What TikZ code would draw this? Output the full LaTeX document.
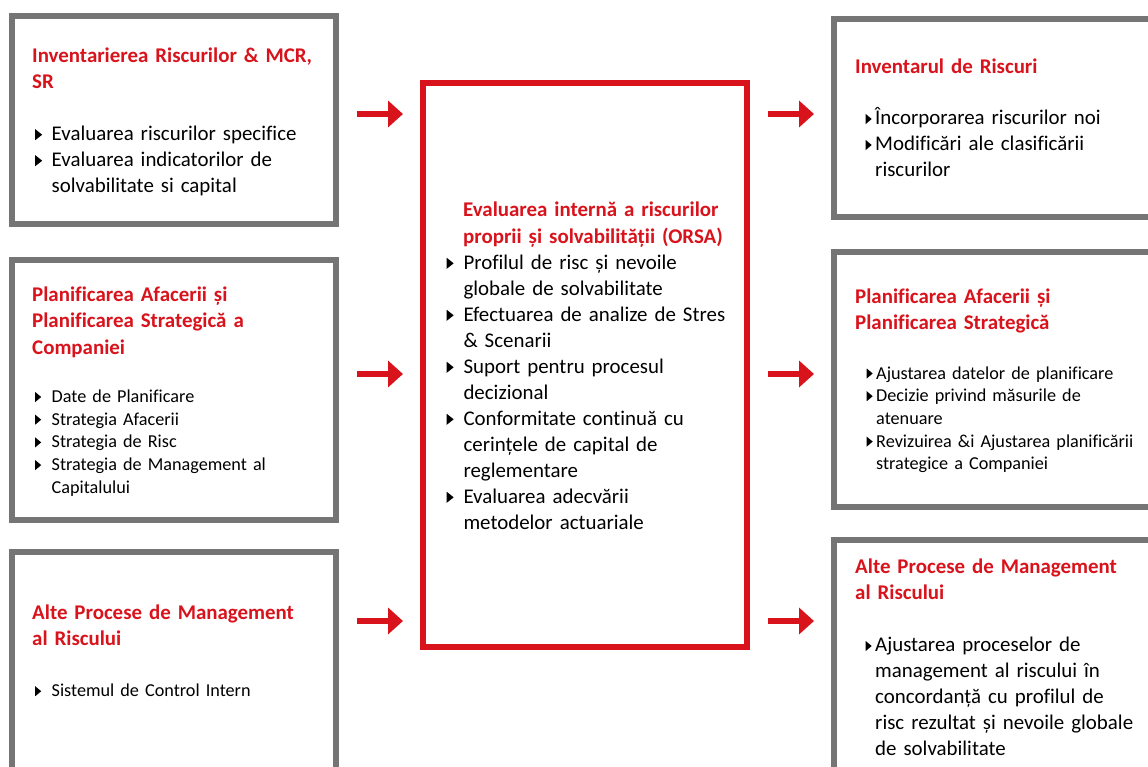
\documentclass[tikz,border=0pt]{standalone}
\usepackage{fontspec}
\setmainfont{Carlito}[Ligatures=CommonOff]
\usetikzlibrary{arrows.meta}

\definecolor{orsared}{HTML}{D9131C}
\definecolor{boxgray}{HTML}{757575}

% bullet triangle: #1 width, #2 height
\newcommand\tri[2]{\tikz[baseline=0pt,x=1pt,y=1pt]\fill[black] (0,0.5) -- (0,#2+0.5) -- (#1,#2/2+0.5) -- cycle;}
\newlength\bulw
\newcommand\bl[1]{\makebox[\bulw][l]{\tri{7}{11}}#1}
\newcommand\bs[1]{\makebox[\bulw][l]{\tri{6}{10}}#1}
\newcommand\cl[1]{\hspace*{\bulw}#1}

\begin{document}
\begin{tikzpicture}[x=1pt,y=-1pt,
  gbox/.style={draw=boxgray,line width=6pt,fill=white,inner sep=0pt},
  rbox/.style={draw=orsared,line width=6pt,fill=white,inner sep=0pt},
  ttl/.style={anchor=base west,inner sep=0pt,text width=320pt,align=left,text=orsared,
    font=\fontsize{20.9}{26.5}\selectfont\bfseries},
  body/.style={anchor=base west,inner sep=0pt,text width=320pt,align=left,
    font=\fontsize{20.9}{26}\selectfont},
  small/.style={anchor=base west,inner sep=0pt,text width=320pt,align=left,
    font=\fontsize{18.2}{22.7}\selectfont},
  arr/.style={draw=orsared,line width=5.5pt,-{Triangle[length=15pt,width=26pt]}}]
\useasboundingbox (0,0) rectangle (1148,766);
\clip (0,0) rectangle (1148,766);

% frames
\node[gbox,minimum width=324pt,minimum height=208pt] (inv) at (174,120) {};
\node[gbox,minimum width=324pt,minimum height=259.5pt] (plan) at (174,389.75) {};
\node[gbox,minimum width=324pt,minimum height=248pt] (alte) at (174,676) {};
\node[rbox,minimum width=324pt,minimum height=564pt] (orsa) at (585,365) {};
\node[gbox,minimum width=366pt,minimum height=198.5pt] (rinv) at (1017,117.75) {};
\node[gbox,minimum width=366pt,minimum height=255pt] (rplan) at (1017,379) {};
\node[gbox,minimum width=366pt,minimum height=260pt] (ralte) at (1017,670) {};

% left column
\setlength\bulw{16.5pt}
\node[ttl] (invT) at (32,62) {Inventarierea Riscurilor \& MCR,\\SR};
\node[body] (invL) at (35,140.7) {\bl{Evaluarea riscurilor specifice}\\
  \bl{Evaluarea indicatorilor de}\\\cl{solvabilitate si capital}};

\node[ttl] (planT) at (32,301) {Planificarea Afacerii și\\Planificarea Strategică a\\Companiei};
\node[small] (planL) at (35,402.5) {\bs{Date de Planificare}\\\bs{Strategia Afacerii}\\
  \bs{Strategia de Risc}\\\bs{Strategia de Management al}\\\cl{Capitalului}};

\node[ttl] (alteT) at (32,619.3) {Alte Procese de Management\\al Riscului};
\node[small] (alteL) at (35,696.7) {\bs{Sistemul de Control Intern}};

% centre
\setlength\bulw{16.8pt}
\node[ttl] (orsaT) at (463,216.7) {Evaluarea internă a riscurilor\\proprii și solvabilității (ORSA)};
\node[body] (orsaL) at (446.5,269.3) {\bl{Profilul de risc și nevoile}\\\cl{globale de solvabilitate}\\
  \bl{Efectuarea de analize de Stres}\\\cl{\& Scenarii}\\
  \bl{Suport pentru procesul}\\\cl{decizional}\\
  \bl{Conformitate continuă cu}\\\cl{cerințele de capital de}\\\cl{reglementare}\\
  \bl{Evaluarea adecvării}\\\cl{metodelor actuariale}};

% right column
\setlength\bulw{9.5pt}
\node[ttl] (rinvT) at (855,73.3) {Inventarul de Riscuri};
\node[body] (rinvL) at (865.5,124.5) {\bs{Încorporarea riscurilor noi}\\
  \bs{Modificări ale clasificării}\\\cl{riscurilor}};

\node[ttl] (rplanT) at (855,303) {Planificarea Afacerii și\\Planificarea Strategică};
\node[small] (rplanL) at (866.5,379) {\bs{Ajustarea datelor de planificare}\\
  \bs{Decizie privind măsurile de}\\\cl{atenuare}\\
  \bs{Revizuirea \&i Ajustarea planificării}\\\cl{strategice a Companiei}};

\node[ttl] (ralteT) at (855,573) {Alte Procese de Management\\al Riscului};
\node[body] (ralteL) at (865.5,651.5) {\bs{Ajustarea proceselor de}\\
  \cl{management al riscului în}\\\cl{concordanță cu profilul de}\\
  \cl{risc rezultat și nevoile globale}\\\cl{de solvabilitate}};

% arrows
\coordinate (a1s) at (357,114); \coordinate (a1e) at (403,114);
\coordinate (a2s) at (357,374); \coordinate (a2e) at (403,374);
\coordinate (a3s) at (357,621); \coordinate (a3e) at (403,621);
\coordinate (b1s) at (768,114); \coordinate (b1e) at (814,114);
\coordinate (b2s) at (768,374); \coordinate (b2e) at (814,374);
\coordinate (b3s) at (768,621); \coordinate (b3e) at (814,621);
\draw[arr] (a1s) -- (a1e);
\draw[arr] (a2s) -- (a2e);
\draw[arr] (a3s) -- (a3e);
\draw[arr] (b1s) -- (b1e);
\draw[arr] (b2s) -- (b2e);
\draw[arr] (b3s) -- (b3e);
\end{tikzpicture}
\end{document}
